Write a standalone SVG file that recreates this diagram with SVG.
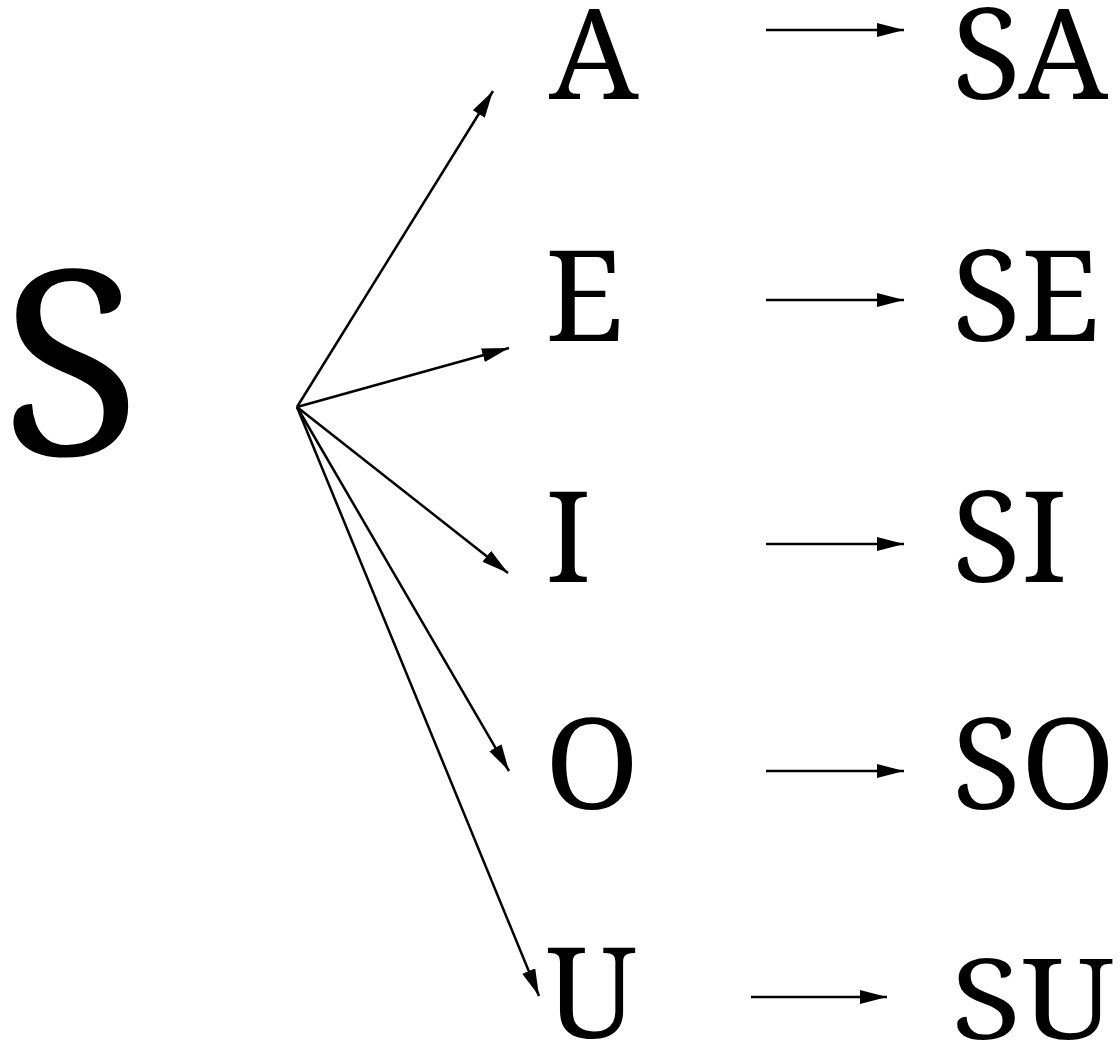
<svg xmlns="http://www.w3.org/2000/svg" width="1119" height="1059" viewBox="0 0 1119 1059">
<style>
text{font-family:'Noto Serif',serif;fill:#000}
.m{font-size:127px}
.big{font-size:258px}
.c{stroke:#000;stroke-width:2.5;fill:none}
</style>
<defs>
<marker id="ah" markerUnits="userSpaceOnUse" markerWidth="30" markerHeight="16" refX="27" refY="7" orient="auto">
<path d="M0,0 L27,7 L0,14 z" fill="#000"/>
</marker>
</defs>
<rect width="1119" height="1059" fill="#fff"/>
<g id="connectors">
<line class="c" x1="297" y1="407" x2="493" y2="91" marker-end="url(#ah)"/>
<line class="c" x1="297" y1="407" x2="509" y2="348" marker-end="url(#ah)"/>
<line class="c" x1="297" y1="407" x2="508" y2="573" marker-end="url(#ah)"/>
<line class="c" x1="297" y1="407" x2="509" y2="771" marker-end="url(#ah)"/>
<line class="c" x1="297" y1="407" x2="539" y2="996" marker-end="url(#ah)"/>
<line class="c" x1="766" y1="30" x2="904" y2="30" marker-end="url(#ah)"/>
<line class="c" x1="766" y1="300" x2="904" y2="300" marker-end="url(#ah)"/>
<line class="c" x1="766" y1="544" x2="904" y2="544" marker-end="url(#ah)"/>
<line class="c" x1="766" y1="771" x2="904" y2="771" marker-end="url(#ah)"/>
<line class="c" x1="751" y1="997" x2="887" y2="997" marker-end="url(#ah)"/>
</g>
<g id="node-S"><text class="big" x="1" y="455">S</text></g>
<g id="node-A"><text class="m" x="549" y="99">A</text></g>
<g id="node-E"><text class="m" x="545" y="341">E</text></g>
<g id="node-I"><text class="m" x="545" y="582">I</text></g>
<g id="node-O"><text class="m" x="545" y="809">O</text></g>
<g id="node-U"><text class="m" x="546" y="1038">U</text></g>
<g id="node-SA"><text class="m" x="952" y="99">SA</text></g>
<g id="node-SE"><text class="m" x="952" y="341">SE</text></g>
<g id="node-SI"><text class="m" x="952" y="582">SI</text></g>
<g id="node-SO"><text class="m" x="952" y="809">SO</text></g>
<g id="node-SU"><text class="m" transform="translate(951,1039) scale(1.02,0.88)">SU</text></g>
</svg>
